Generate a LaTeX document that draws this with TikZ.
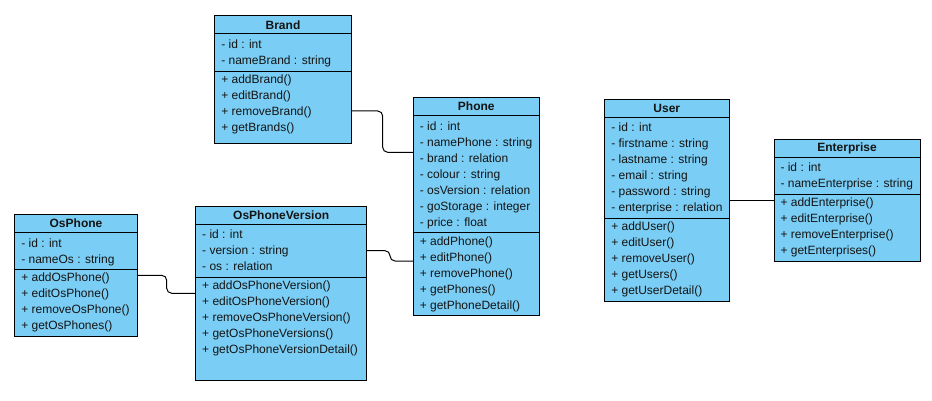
\documentclass[tikz,border=0pt]{standalone}
\usepackage{fontspec}
\setmainfont{Liberation Sans}
\usetikzlibrary{calc}
\definecolor{umlblue}{RGB}{122,206,245}
\definecolor{umltext}{RGB}{20,20,20}
\begin{document}
\begin{tikzpicture}[x=1pt,y=-1pt,
  part/.style={draw=black, fill=umlblue, line width=1pt, inner sep=0pt, outer sep=0pt, anchor=north west, rectangle},
  head/.style={part, font=\fontsize{12}{14}\selectfont\bfseries, text=umltext},
  row/.style={anchor=base west, inner sep=0pt, outer sep=0pt, font=\fontsize{12}{14}\selectfont, text=umltext},
  link/.style={draw=black, line width=1pt, rounded corners=5pt}]
\useasboundingbox (0,0) rectangle (932,401);

% ---------- Brand ----------
\node[head, minimum width=137.4pt, minimum height=18pt] (brandH) at (214.3,16) {Brand};
\node[part, minimum width=137.4pt, minimum height=37.3pt] (brandA) at (214.3,34) {};
\node[part, minimum width=137.4pt, minimum height=72pt] (brandM) at (214.3,71.3) {};
\foreach \t [count=\i] in {- id : int, - nameBrand : string}
  \node[row] (brandA\i) at ({221.3},{44+16*(\i-1)+4.5}) {\t};
\foreach \t [count=\i] in {+ addBrand(), + editBrand(), + removeBrand(), + getBrands()}
  \node[row] (brandM\i) at ({221.3},{79.3+16*(\i-1)+4.5}) {\t};

% ---------- Phone ----------
\node[head, minimum width=126pt, minimum height=18pt] (phoneH) at (413.3,97.3) {Phone};
\node[part, minimum width=126pt, minimum height=117.4pt] (phoneA) at (413.3,115.3) {};
\node[part, minimum width=126pt, minimum height=82.6pt] (phoneM) at (413.3,232.7) {};
\foreach \t [count=\i] in {- id : int, - namePhone : string, - brand : relation, - colour : string, - osVersion : relation, - goStorage : integer, - price : float}
  \node[row] (phoneA\i) at ({419.8},{125.7+16*(\i-1)+4.5}) {\t};
\foreach \t [count=\i] in {+ addPhone(), + editPhone(), + removePhone(), + getPhones(), + getPhoneDetail()}
  \node[row] (phoneM\i) at ({419.8},{240.7+16*(\i-1)+4.5}) {\t};

% ---------- OsPhone ----------
\node[head, minimum width=123.4pt, minimum height=18.4pt] (osH) at (14.3,214.3) {OsPhone};
\node[part, minimum width=123.4pt, minimum height=37pt] (osA) at (14.3,232.7) {};
\node[part, minimum width=123.4pt, minimum height=66.6pt] (osM) at (14.3,269.7) {};
\foreach \t [count=\i] in {- id : int, - nameOs : string}
  \node[row] (osA\i) at ({21.3},{242.7+16*(\i-1)+4.5}) {\t};
\foreach \t [count=\i] in {+ addOsPhone(), + editOsPhone(), + removeOsPhone(), + getOsPhones()}
  \node[row] (osM\i) at ({21.3},{277.3+16*(\i-1)+4.5}) {\t};

% ---------- OsPhoneVersion ----------
\node[head, minimum width=171pt, minimum height=17.6pt] (osvH) at (195.7,206.7) {OsPhoneVersion};
\node[part, minimum width=171pt, minimum height=53pt] (osvA) at (195.7,224.3) {};
\node[part, minimum width=171pt, minimum height=102.7pt] (osvM) at (195.7,277.3) {};
\foreach \t [count=\i] in {- id : int, - version : string, - os : relation}
  \node[row] (osvA\i) at ({202.2},{234.3+16*(\i-1)+4.5}) {\t};
\foreach \t [count=\i] in {+ addOsPhoneVersion(), + editOsPhoneVersion(), + removeOsPhoneVersion(), + getOsPhoneVersions(), + getOsPhoneVersionDetail()}
  \node[row] (osvM\i) at ({202.2},{285.3+16*(\i-1)+4.5}) {\t};

% ---------- User ----------
\node[head, minimum width=125pt, minimum height=18pt] (userH) at (604.3,99.3) {User};
\node[part, minimum width=125pt, minimum height=101pt] (userA) at (604.3,117.3) {};
\node[part, minimum width=125pt, minimum height=83.4pt] (userM) at (604.3,218.3) {};
\foreach \t [count=\i] in {- id : int, - firstname : string, - lastname : string, - email : string, - password : string, - enterprise : relation}
  \node[row] (userA\i) at ({611.3},{127.3+16*(\i-1)+4.5}) {\t};
\foreach \t [count=\i] in {+ addUser(), + editUser(), + removeUser(), + getUsers(), + getUserDetail()}
  \node[row] (userM\i) at ({611.3},{226+16*(\i-1)+4.5}) {\t};

% ---------- Enterprise ----------
\node[head, minimum width=146pt, minimum height=18.4pt] (entH) at (774,139.3) {Enterprise};
\node[part, minimum width=146pt, minimum height=36.6pt] (entA) at (774,157.7) {};
\node[part, minimum width=146pt, minimum height=67.4pt] (entM) at (774,194.3) {};
\foreach \t [count=\i] in {- id : int, - nameEnterprise : string}
  \node[row] (entA\i) at ({780.5},{167.3+16*(\i-1)+4.5}) {\t};
\foreach \t [count=\i] in {+ addEnterprise(), + editEnterprise(), + removeEnterprise(), + getEnterprises()}
  \node[row] (entM\i) at ({780.5},{201.7+16*(\i-1)+4.5}) {\t};

% ---------- connectors ----------
\draw[link] (brandM.east |- 0,111) -| (382.7,152.3) -- (phoneA.west |- 0,152.3);
\draw[link] (osM.east |- 0,275.3) -| (166.7,293.3) -- (osvM.west |- 0,293.3);
\draw[link] (osvA.east |- 0,250.7) -| (390,261) -- (phoneM.west |- 0,261);
\draw[link] (userA.east |- 0,200) -- (entM.west |- 0,200);
\end{tikzpicture}
\end{document}
